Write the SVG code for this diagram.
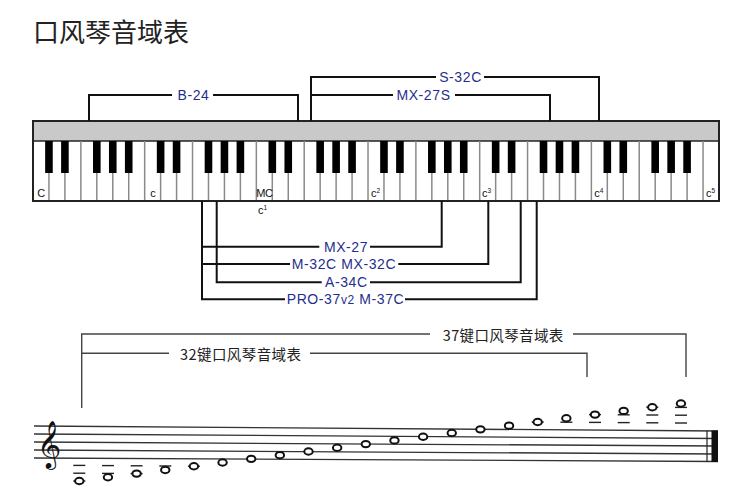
<svg xmlns="http://www.w3.org/2000/svg" xmlns:xlink="http://www.w3.org/1999/xlink" width="750" height="500" viewBox="0 0 750 500">
<style>
.br{fill:none;stroke:#111;stroke-width:2}
.sb{fill:none;stroke:#444;stroke-width:1.4}
.lbl{font-family:"Liberation Sans",Arial,sans-serif;font-size:14px;fill:#1f2f8c;letter-spacing:0.6px;text-anchor:middle}
.key{font-family:"Liberation Sans",Arial,sans-serif;font-size:11px;fill:#111;text-anchor:middle}
.cjk{font-family:"Noto Sans CJK SC","Noto Sans",sans-serif;fill:#222}
.sep{stroke:#8a8a8a;stroke-width:1.5}
.st{stroke:#333;stroke-width:1.3}
.note{fill:#fff;stroke:#111;stroke-width:2}
.led{stroke:#222;stroke-width:1.4}
</style>
<defs>
<g id="oct">
<line class="sep" x1="15.95" y1="141" x2="15.95" y2="201"/>
<line class="sep" x1="31.91" y1="141" x2="31.91" y2="201"/>
<line class="sep" x1="47.86" y1="141" x2="47.86" y2="201"/>
<line class="sep" x1="63.81" y1="141" x2="63.81" y2="201"/>
<line class="sep" x1="79.77" y1="141" x2="79.77" y2="201"/>
<line class="sep" x1="95.72" y1="141" x2="95.72" y2="201"/>
<line class="sep" x1="111.67" y1="141" x2="111.67" y2="201"/>
<rect x="12.15" y="141" width="7.6" height="32" fill="#000"/>
<rect x="28.11" y="141" width="7.6" height="32" fill="#000"/>
<rect x="60.01" y="141" width="7.6" height="32" fill="#000"/>
<rect x="75.97" y="141" width="7.6" height="32" fill="#000"/>
<rect x="91.92" y="141" width="7.6" height="32" fill="#000"/>
</g>
</defs>
<rect width="750" height="500" fill="#fff"/>
<g id="title">
<text class="cjk" x="33" y="42" font-size="26">口风琴音域表</text>
</g>
<g id="keyboard">
<rect x="33" y="121" width="686" height="80" fill="#fff" stroke="#222" stroke-width="2"/>
<rect x="34" y="122" width="684" height="19" fill="#c9c9c9"/>
<line x1="33" y1="141" x2="719" y2="141" stroke="#222" stroke-width="1.5"/>
<use xlink:href="#oct" x="33"/>
<use xlink:href="#oct" x="144.67"/>
<use xlink:href="#oct" x="256.35"/>
<use xlink:href="#oct" x="368.02"/>
<use xlink:href="#oct" x="479.70"/>
<use xlink:href="#oct" x="591.37"/>
<rect x="33" y="121" width="686" height="80" fill="none" stroke="#222" stroke-width="2"/>
</g>
<g id="key-labels">
<text class="key" x="41.3" y="197">C</text>
<text class="key" x="153" y="197">c</text>
<text class="key" x="264.3" y="197" font-size="10" letter-spacing="-0.6">MC</text>
<text class="key" x="375.5" y="197">c<tspan font-size="6.5" dy="-4">2</tspan></text>
<text class="key" x="486.5" y="197">c<tspan font-size="6.5" dy="-4">3</tspan></text>
<text class="key" x="598.8" y="197">c<tspan font-size="6.5" dy="-4">4</tspan></text>
<text class="key" x="710.5" y="197">c<tspan font-size="6.5" dy="-4">5</tspan></text>
<text class="key" x="262.5" y="214">c<tspan font-size="6.5" dy="-4">1</tspan></text>
</g>
<g id="connectors">
<path class="br" d="M89,121 V95 H172 M213,95 H298 V121"/>
<path class="br" d="M311,121 V77 H436 M484,77 H599 V121"/>
<path class="br" d="M311,95 H393 M455,95 H550 V121"/>
<path class="br" d="M202,201 V299.3 H285 M405,299.3 H536.7 V201"/>
<path class="br" d="M216.7,201 V282.3 H321.7 M370,282.3 H520.7 V201"/>
<path class="br" d="M202,264 H290 M398.3,264 H488.3 V201"/>
<path class="br" d="M202,246.7 H319.3 M370,246.7 H441.7 V201"/>
</g>
<g id="model-b24"><text class="lbl" x="193.5" y="100">B-24</text></g>
<g id="model-s32c"><text class="lbl" x="460.5" y="82">S-32C</text></g>
<g id="model-mx27s"><text class="lbl" x="423.5" y="100">MX-27S</text></g>
<g id="model-mx27"><text class="lbl" x="346" y="251.7">MX-27</text></g>
<g id="model-m32c"><text class="lbl" x="344" y="269">M-32C MX-32C</text></g>
<g id="model-a34c"><text class="lbl" x="346.3" y="287.3">A-34C</text></g>
<g id="model-pro37"><text class="lbl" x="345.5" y="304.3">PRO-37<tspan font-size="12">v2</tspan> M-37C</text></g>
<g id="range-brackets">
<path class="sb" d="M81.7,408 V334 H430 M573,334 H686 V377"/>
<path class="sb" d="M82,353.3 H169 M310,353.3 H587 V377"/>
<text class="cjk" x="442.7" y="341" font-size="14.5" textLength="120.6" lengthAdjust="spacing">37键口风琴音域表</text>
<text class="cjk" x="180" y="360" font-size="14.5" textLength="121" lengthAdjust="spacing">32键口风琴音域表</text>
</g>
<g id="staff">
<line class="st" x1="34" y1="426" x2="718" y2="431"/>
<line class="st" x1="34" y1="434" x2="718" y2="438.5"/>
<line class="st" x1="34" y1="442" x2="718" y2="446"/>
<line class="st" x1="34" y1="450" x2="718" y2="454"/>
<line class="st" x1="34" y1="458" x2="718" y2="461.5"/>
<line x1="707" y1="430.5" x2="707" y2="462" stroke="#222" stroke-width="1.2"/>
<rect x="711.5" y="430.5" width="6.5" height="31.5" fill="#111"/>
<text x="37" y="458" font-family="DejaVu Sans,sans-serif" font-size="41" fill="#111">𝄞</text>
</g>
<g id="ledgers">
<line class="led" x1="73.3" y1="465.4" x2="85.3" y2="465.4"/>
<line class="led" x1="73.3" y1="473.2" x2="85.3" y2="473.2"/>
<line class="led" x1="73.3" y1="481" x2="85.3" y2="481"/>
<line class="led" x1="102" y1="465.6" x2="114" y2="465.6"/>
<line class="led" x1="102" y1="473.4" x2="114" y2="473.4"/>
<line class="led" x1="130.6" y1="465.8" x2="142.6" y2="465.8"/>
<line class="led" x1="130.6" y1="473.6" x2="142.6" y2="473.6"/>
<line class="led" x1="159.3" y1="466" x2="171.3" y2="466"/>
<line class="led" x1="187.9" y1="466.2" x2="199.9" y2="466.2"/>
<line class="led" x1="531.7" y1="422" x2="543.7" y2="422"/>
<line class="led" x1="560.4" y1="422.2" x2="572.4" y2="422.2"/>
<line class="led" x1="589" y1="422.4" x2="601" y2="422.4"/>
<line class="led" x1="589" y1="414.6" x2="601" y2="414.6"/>
<line class="led" x1="617.7" y1="422.6" x2="629.7" y2="422.6"/>
<line class="led" x1="617.7" y1="414.8" x2="629.7" y2="414.8"/>
<line class="led" x1="646.3" y1="422.8" x2="658.3" y2="422.8"/>
<line class="led" x1="646.3" y1="415" x2="658.3" y2="415"/>
<line class="led" x1="646.3" y1="407.2" x2="658.3" y2="407.2"/>
<line class="led" x1="675" y1="423" x2="687" y2="423"/>
<line class="led" x1="675" y1="415.2" x2="687" y2="415.2"/>
<line class="led" x1="675" y1="407.4" x2="687" y2="407.4"/>
</g>
<g id="notes">
<ellipse class="note" cx="79.3" cy="481" rx="4.2" ry="3.2"/>
<ellipse class="note" cx="107.95" cy="477.31" rx="4.2" ry="3.2"/>
<ellipse class="note" cx="136.6" cy="473.62" rx="4.2" ry="3.2"/>
<ellipse class="note" cx="165.25" cy="469.93" rx="4.2" ry="3.2"/>
<ellipse class="note" cx="193.9" cy="466.24" rx="4.2" ry="3.2"/>
<ellipse class="note" cx="222.55" cy="462.55" rx="4.2" ry="3.2"/>
<ellipse class="note" cx="251.2" cy="458.86" rx="4.2" ry="3.2"/>
<ellipse class="note" cx="279.85" cy="455.17" rx="4.2" ry="3.2"/>
<ellipse class="note" cx="308.5" cy="451.48" rx="4.2" ry="3.2"/>
<ellipse class="note" cx="337.15" cy="447.79" rx="4.2" ry="3.2"/>
<ellipse class="note" cx="365.8" cy="444.1" rx="4.2" ry="3.2"/>
<ellipse class="note" cx="394.45" cy="440.41" rx="4.2" ry="3.2"/>
<ellipse class="note" cx="423.1" cy="436.72" rx="4.2" ry="3.2"/>
<ellipse class="note" cx="451.75" cy="433.03" rx="4.2" ry="3.2"/>
<ellipse class="note" cx="480.4" cy="429.34" rx="4.2" ry="3.2"/>
<ellipse class="note" cx="509.05" cy="425.65" rx="4.2" ry="3.2"/>
<ellipse class="note" cx="537.7" cy="421.96" rx="4.2" ry="3.2"/>
<ellipse class="note" cx="566.35" cy="418.27" rx="4.2" ry="3.2"/>
<ellipse class="note" cx="595" cy="414.58" rx="4.2" ry="3.2"/>
<ellipse class="note" cx="623.65" cy="410.89" rx="4.2" ry="3.2"/>
<ellipse class="note" cx="652.3" cy="407.2" rx="4.2" ry="3.2"/>
<ellipse class="note" cx="680.95" cy="403.51" rx="4.2" ry="3.2"/>
</g>
</svg>
